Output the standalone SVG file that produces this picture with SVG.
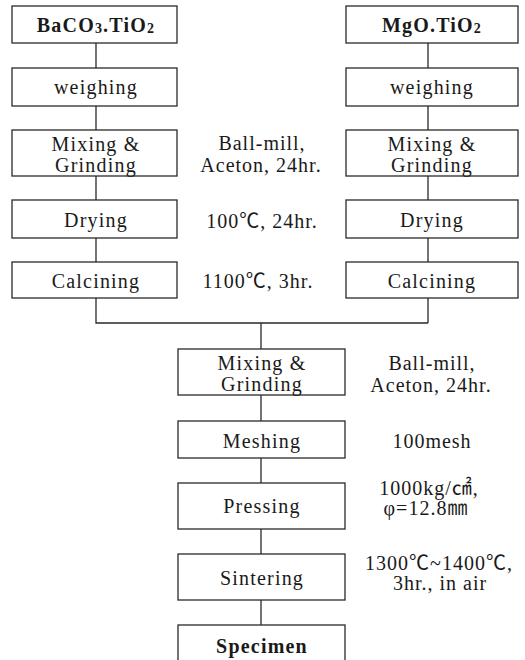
<svg xmlns="http://www.w3.org/2000/svg" width="525" height="660" viewBox="0 0 525 660">
<style>
.box{fill:#fff;stroke:#2a2a2a;stroke-width:1.3}
.t{font-family:"Liberation Serif","Noto Sans CJK KR",serif;font-size:20px;fill:#1a1a1a;text-anchor:middle;letter-spacing:1.2px}
.b{font-weight:bold}
.ann{font-family:"Liberation Serif","Noto Sans CJK KR",serif;font-size:20px;fill:#1a1a1a;text-anchor:middle;letter-spacing:1px}
.c{fill:none;stroke:#2a2a2a;stroke-width:1.3}
</style>
<rect width="525" height="660" fill="#fff"/>
<g id="connectors">
<path class="c" d="M96 43V68M96 106V130M96 176V200M96 238V262M96 298V323H428M428 43V68M428 106V130M428 176V200M428 238V262M428 298V323M261 323V349M261 395V421M261 458V483M261 529V554M261 600V625"/>
</g>
<g id="n-baco3"><rect class="box" x="12" y="6" width="165" height="37"/><text class="t b" x="96" y="32">BaCO<tspan font-size="14" dy="1">3</tspan><tspan dy="-1">.TiO</tspan><tspan font-size="14" dy="1">2</tspan></text></g>
<g id="n-weigh1"><rect class="box" x="12" y="68" width="165" height="38"/><text class="t" x="96" y="94">weighing</text></g>
<g id="n-mix1"><rect class="box" x="12" y="130" width="165" height="46"/><text class="t" x="96" y="151">Mixing &amp;</text><text class="t" x="96" y="172">Grinding</text></g>
<g id="n-dry1"><rect class="box" x="12" y="200" width="165" height="38"/><text class="t" x="96" y="227">Drying</text></g>
<g id="n-calc1"><rect class="box" x="12" y="262" width="165" height="36"/><text class="t" x="96" y="288">Calcining</text></g>
<g id="n-mgo"><rect class="box" x="346" y="6" width="172" height="37"/><text class="t b" x="432" y="32">MgO.TiO<tspan font-size="14" dy="1">2</tspan></text></g>
<g id="n-weigh2"><rect class="box" x="346" y="68" width="172" height="38"/><text class="t" x="432" y="94">weighing</text></g>
<g id="n-mix2"><rect class="box" x="346" y="130" width="172" height="46"/><text class="t" x="432" y="151">Mixing &amp;</text><text class="t" x="432" y="172">Grinding</text></g>
<g id="n-dry2"><rect class="box" x="346" y="200" width="172" height="38"/><text class="t" x="432" y="227">Drying</text></g>
<g id="n-calc2"><rect class="box" x="346" y="262" width="172" height="36"/><text class="t" x="432" y="288">Calcining</text></g>
<g id="n-mix3"><rect class="box" x="178" y="349" width="167" height="46"/><text class="t" x="262" y="370">Mixing &amp;</text><text class="t" x="262" y="391">Grinding</text></g>
<g id="n-mesh"><rect class="box" x="178" y="421" width="167" height="37"/><text class="t" x="262" y="448">Meshing</text></g>
<g id="n-press"><rect class="box" x="178" y="483" width="167" height="46"/><text class="t" x="262" y="513">Pressing</text></g>
<g id="n-sinter"><rect class="box" x="178" y="554" width="167" height="46"/><text class="t" x="262" y="585">Sintering</text></g>
<g id="n-spec"><rect class="box" x="178" y="625" width="167" height="50"/><text class="t b" x="262" y="653">Specimen</text></g>
<g id="annotations">
<text class="ann" x="262" y="150">Ball-mill,</text>
<text class="ann" x="261" y="172">Aceton, 24hr.</text>
<text class="ann" x="262" y="228">100℃, 24hr.</text>
<text class="ann" x="258" y="288">1100℃, 3hr.</text>
<text class="ann" x="432" y="370">Ball-mill,</text>
<text class="ann" x="431" y="392">Aceton, 24hr.</text>
<text class="ann" x="432" y="448">100mesh</text>
<text class="ann" x="429" y="495">1000kg/㎠,</text>
<text class="ann" x="426" y="515">φ=12.8㎜</text>
<text class="ann" x="439" y="570">1300℃~1400℃,</text>
<text class="ann" x="440" y="590">3hr., in air</text>
</g>
</svg>
